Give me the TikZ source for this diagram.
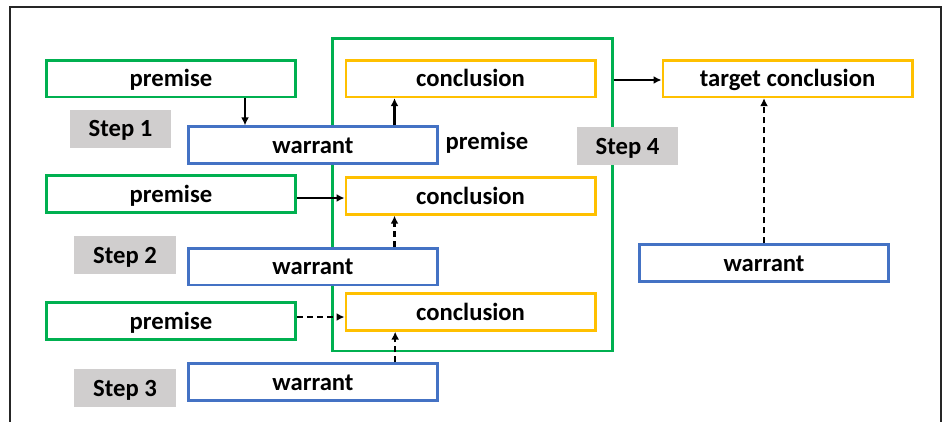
\documentclass[tikz,border=0pt]{standalone}
\usepackage{fontspec}
\setmainfont{Carlito}
\usetikzlibrary{calc}
\usetikzlibrary{arrows.meta}
\definecolor{boxgreen}{RGB}{0,176,80}
\definecolor{boxgold}{RGB}{255,192,0}
\definecolor{boxblue}{RGB}{68,114,196}
\definecolor{stepgray}{RGB}{208,206,206}
\tikzset{
  premisebox/.style={draw=boxgreen, line width=2pt, fill=white, minimum width=187pt, minimum height=27.5pt},
  conclbox/.style={draw=boxgold, line width=2pt, fill=white, minimum width=187pt, minimum height=27.5pt},
  warrantbox/.style={draw=boxblue, line width=2pt, fill=white, minimum width=187pt, minimum height=27.5pt},
  steplabel/.style={fill=stepgray, minimum width=76pt, minimum height=28.5pt},
  link/.style={line width=1.7pt, -{Latex[length=6pt,width=6pt]}},
  dlink/.style={link, dash pattern=on 4.5pt off 3pt}
}
\begin{document}
\begin{tikzpicture}[x=0.75pt, y=-0.75pt, every node/.style={inner sep=0pt, text height=12pt, text depth=0pt, font=\fontsize{18.5}{20}\selectfont\bfseries}]
\useasboundingbox (0,0) rectangle (944,421);
\draw[line width=1.5pt, black!85] (10,425) -- (10,6.5) -- (941,6.5) -- (941,425);

% step 4 frame
\node[draw=boxgreen, line width=2pt, minimum width=210pt, minimum height=234.5pt] (F) at (472.5,194.5) {};

\node[premisebox] (P1) at (171,78.5) {premise};
\node[premisebox] (P2) at (171,194) {premise};
\node[premisebox] (P3) at (171,321) {premise};

\node[conclbox] (C1) at (470.5,78.5) {conclusion};
\node[conclbox] (C2) at (470.5,196) {conclusion};
\node[conclbox] (C3) at (470.5,312) {conclusion};
\node[conclbox] (TC) at (787.5,78.5) {target conclusion};

\node[warrantbox] (W1) at (313,145) {warrant};
\node[warrantbox] (W2) at (313,266.5) {warrant};
\node[warrantbox] (W3) at (313,382) {warrant};
\node[warrantbox] (W4) at (764,263) {warrant};

\node (PW) at (487,141) {premise};

\node[steplabel] (S1) at (120.5,128.5) {Step 1};
\node[steplabel] (S2) at (125,255) {Step 2};
\node[steplabel] (S3) at (125,388) {Step 3};
\node[steplabel] (S4) at (627.5,146) {Step 4};

\coordinate (A1) at ([xshift=-39pt]P1.south east);
\coordinate (B1) at ([xshift=37.5pt]C1.south west);
\coordinate (B2) at ([xshift=37.5pt]C2.south west);
\coordinate (B3) at ([xshift=38pt]C3.south west);

\draw[link] (A1) -- (A1 |- W1.north);
\draw[link] (B1 |- W1.north) -- (B1);
\draw[link] (P2.east |- 0,198) -- (C2.west |- 0,198);
\draw[dlink] (B2 |- W2.north) -- (B2);
\draw[dlink] (P3.east |- 0,317) -- (C3.west |- 0,317);
\draw[dlink] (B3 |- W3.north) -- (B3);
\draw[link] (F.east |- 0,80) -- (TC.west |- 0,80);
\draw[dlink] (W4.north) -- (TC.south -| W4.north);
\end{tikzpicture}
\end{document}
